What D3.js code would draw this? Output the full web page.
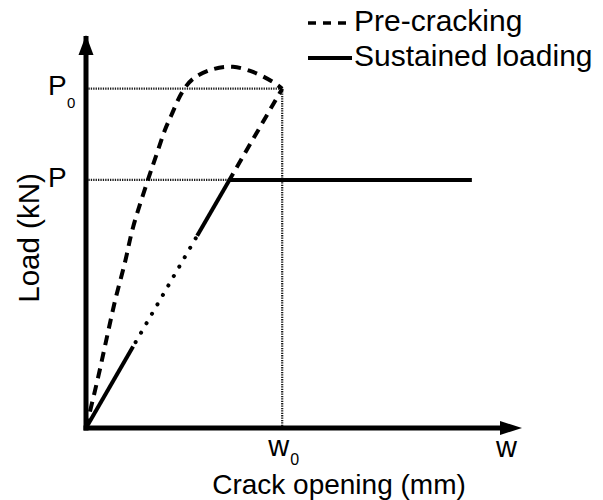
<!DOCTYPE html>
<html>
<head>
<meta charset="utf-8">
<script src="https://cdn.jsdelivr.net/npm/d3@7/dist/d3.min.js"></script>
<style>
  html, body { margin: 0; padding: 0; background: #fff; }
  svg text { font-family: "Liberation Sans", Arial, sans-serif; fill: #000; }
</style>
</head>
<body>
<svg id="chart" width="603" height="500"></svg>
<script>
// Crack opening w (arbitrary units) and load P (kN, arbitrary units)
const w0 = 4.5;          // crack opening reached at end of pre-cracking
const P0 = 8.7;          // load at w0
const P = 6.36;          // sustained load level
const xMax = 10;
const yMax = 10;

// Pre-cracking loading branch: rises, peaks, softens back to (w0, P0)
const preCrackW    = [0, 0.28, 0.48, 0.67, 0.89, 1.08, 1.42, 1.63, 1.81, 1.95, 2.2, 2.45, 2.91, 3.37, 3.83, 4.29, 4.5];
const preCrackLoad = [0, 1.31, 2.33, 3.28, 4.23, 5.15, 6.36, 7.05, 7.64, 8.0, 8.6, 8.95, 9.2, 9.26, 9.13, 8.87, 8.7];

// Pre-cracking unloading branch (straight back toward the origin)
const unloadW    = [4.5, 3.29];
const unloadLoad = [8.7, 6.36];

// Sustained loading: reload along the same line, then hold P
const sustainedW     = [0, 1.08, 2.55, 3.29, 8.85];
const sustainedLoad  = [0, 2.09, 4.93, 6.36, 6.36];
const sustainedStyle = ["solid", "dotted", "solid", "solid"];

const legendLabels = ["Pre-cracking", "Sustained loading"];
const xTitle = "Crack opening (mm)";
const yTitle = "Load (kN)";

const svg = d3.select("#chart");
const x = d3.scaleLinear().domain([0, xMax]).range([86, 522]);
const y = d3.scaleLinear().domain([0, yMax]).range([428, 38]);

const line = d3.line().x(d => x(d[0])).y(d => y(d[1]));
const curve = d3.line().x(d => x(d[0])).y(d => y(d[1])).curve(d3.curveCatmullRom.alpha(0.5));

// Reference (guide) lines
const guide = svg.append("g")
  .attr("stroke", "#1a1a1a").attr("stroke-width", 2.2)
  .attr("stroke-dasharray", "1.3,1.1").attr("fill", "none");
guide.append("path").attr("d", line([[0, P0], [w0, P0]]));
guide.append("path").attr("d", line([[w0, P0], [w0, 0]]));
guide.append("path").attr("d", line([[0, P], [sustainedW[3], P]]));

// Pre-cracking curve
const pre = d3.zip(preCrackW, preCrackLoad);
svg.append("path").attr("d", curve(pre))
  .attr("fill", "none").attr("stroke", "#000").attr("stroke-width", 4)
  .attr("stroke-dasharray", "10,7");
svg.append("path").attr("d", line(d3.zip(unloadW, unloadLoad)))
  .attr("fill", "none").attr("stroke", "#000").attr("stroke-width", 4)
  .attr("stroke-dasharray", "10,7").attr("stroke-dashoffset", 4);

// Sustained loading path, segment by segment
const sus = d3.zip(sustainedW, sustainedLoad);
sustainedStyle.forEach((s, i) => {
  const seg = svg.append("path").attr("d", line([sus[i], sus[i + 1]]))
    .attr("fill", "none").attr("stroke", "#000").attr("stroke-width", 4);
  if (s === "dotted") {
    seg.attr("stroke-dasharray", "0.1,10.8").attr("stroke-linecap", "round")
      .attr("stroke-dashoffset", -5);
  } else {
    seg.attr("stroke-linecap", "butt");
  }
});

// Axes with arrowheads
const ax = svg.append("g");
ax.append("line").attr("x1", x(0)).attr("x2", x(0))
  .attr("y1", y(0) + 2.5).attr("y2", y.range()[1] - 2)
  .attr("stroke", "#000").attr("stroke-width", 5);
ax.append("path")
  .attr("d", `M${x(0)},${y.range()[1] - 3} l-7.5,20 l15,0 Z`)
  .attr("fill", "#000");
ax.append("line").attr("x1", x(0) - 2.5).attr("x2", x(xMax) - 18)
  .attr("y1", y(0)).attr("y2", y(0))
  .attr("stroke", "#000").attr("stroke-width", 5);
ax.append("path")
  .attr("d", `M${x(xMax)},${y(0)} l-22,-7 l0,14 Z`)
  .attr("fill", "#000");

// Level labels on the load axis
const p0Label = svg.append("text").attr("x", 48).attr("y", y(P0) + 6).attr("font-size", 28);
p0Label.append("tspan").text("P");
p0Label.append("tspan").attr("x", 67).attr("y", y(P0) + 19).attr("font-size", 15).text("0");
svg.append("text").attr("x", 48).attr("y", y(P) + 7).attr("font-size", 28).text("P");

// Opening labels on the crack-opening axis
const w0Label = svg.append("text").attr("x", x(w0) - 14).attr("y", 456).attr("font-size", 29);
w0Label.append("tspan").text("w");
w0Label.append("tspan").attr("x", x(w0) + 8).attr("y", 465).attr("font-size", 16).text("0");
svg.append("text").attr("x", x(xMax) - 26).attr("y", 457).attr("font-size", 29).text("w");

// Axis titles
svg.append("text").attr("x", 339).attr("y", 494).attr("text-anchor", "middle")
  .attr("font-size", 28).text(xTitle);
svg.append("text").attr("transform", "translate(39,238) rotate(-90)")
  .attr("text-anchor", "middle").attr("font-size", 29.5).text(yTitle);

// Legend
const lg = svg.append("g");
lg.append("line").attr("x1", 308).attr("x2", 350).attr("y1", 23).attr("y2", 23)
  .attr("stroke", "#000").attr("stroke-width", 3.5).attr("stroke-dasharray", "8,7");
lg.append("line").attr("x1", 308).attr("x2", 352).attr("y1", 58).attr("y2", 58)
  .attr("stroke", "#000").attr("stroke-width", 4);
lg.append("text").attr("x", 354).attr("y", 31).attr("font-size", 30).text(legendLabels[0]);
lg.append("text").attr("x", 354).attr("y", 66).attr("font-size", 30).text(legendLabels[1]);
</script>
</body>
</html>
